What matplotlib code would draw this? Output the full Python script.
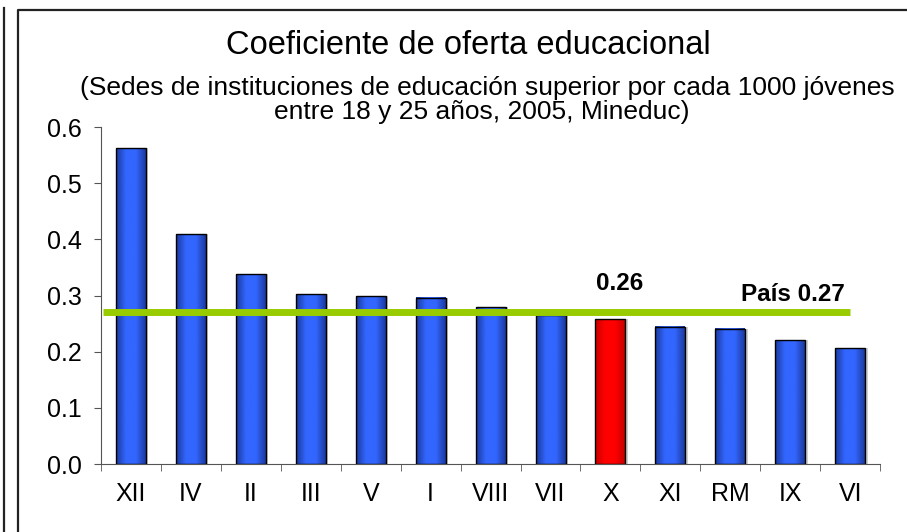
import numpy as np
import matplotlib
matplotlib.use('Agg')
import matplotlib.pyplot as plt
from matplotlib.lines import Line2D
from matplotlib.colors import LinearSegmentedColormap

plt.rcParams['font.family'] = ['Liberation Sans', 'DejaVu Sans']

regiones = ['XII', 'IV', 'II', 'III', 'V', 'I', 'VIII', 'VII', 'X', 'XI', 'RM', 'IX', 'VI']
coeficiente = [0.562, 0.409, 0.338, 0.302, 0.299, 0.296, 0.279, 0.266, 0.258, 0.244, 0.241, 0.220, 0.206]
destacada = 'X'
pais = 0.27

fig = plt.figure(figsize=(9.07, 5.32), dpi=100)
ax = fig.add_axes([0.1114, 0.1278, 0.859, 0.6333])

blue_cm = LinearSegmentedColormap.from_list('b', ['#1c3a9e', '#3366ff', '#3366ff', '#1c3a9e'])
red_cm = LinearSegmentedColormap.from_list('r', ['#c80000', '#ff0000', '#ff0000', '#c80000'])
grad = np.linspace(0, 1, 64).reshape(1, -1)

w = 0.5
x = np.arange(len(regiones))
for xi, (reg, val) in enumerate(zip(regiones, coeficiente)):
    cm = red_cm if reg == destacada else blue_cm
    # light shadow to the right
    ax.bar(xi + 0.04, val, width=w, color='#d0d0d0', zorder=1)
    ax.imshow(grad, cmap=cm, aspect='auto', extent=(xi - w / 2, xi + w / 2, 0, val), zorder=2)
    ax.bar(xi, val, width=w, facecolor='none', edgecolor='black', linewidth=1.0, zorder=3)

ax.plot([-0.46, 12.0], [pais, pais], color='#99cc00', linewidth=5, solid_capstyle='butt', zorder=4)

i = regiones.index(destacada)
ax.text(i + 0.15, 0.322, '0.26', ha='center', va='center', fontsize=17.5, fontweight='bold')
ax.text(11.04, 0.302, 'País 0.27', ha='center', va='center', fontsize=17.5, fontweight='bold')

ax.set_xlim(-0.5, len(regiones) - 0.5)
ax.set_ylim(0, 0.6)
ax.set_yticks(np.arange(0, 0.61, 0.1))
ax.set_yticklabels(['%.1f' % v for v in np.arange(0, 0.61, 0.1)], fontsize=18)
ax.set_xticks(x)
ax.set_xticklabels(regiones, fontsize=18)
ax.set_xticks(np.arange(-0.5, len(regiones)), minor=True)
ax.tick_params(axis='x', which='major', length=0, pad=13)
ax.tick_params(axis='x', which='minor', length=5, color='#555555')
ax.tick_params(axis='y', length=5, color='#555555', pad=9)
for s in ['top', 'right']:
    ax.spines[s].set_visible(False)
ax.spines['left'].set_color('#555555')
ax.spines['bottom'].set_color('#555555')

fig.text(0.516, 0.915, 'Coeficiente de oferta educacional', ha='center', va='center', fontsize=23.5)
fig.text(0.5375, 0.835, '(Sedes de instituciones de educación superior por cada 1000 jóvenes',
         ha='center', va='center', fontsize=19)
fig.text(0.531, 0.789, 'entre 18 y 25 años, 2005, Mineduc)', ha='center', va='center', fontsize=19)

# frames
fig.add_artist(Line2D([18 / 907, 18 / 907, 1.0], [0.0, 1 - 10 / 532, 1 - 10 / 532],
                      transform=fig.transFigure, color='#222222', linewidth=1.6))
fig.add_artist(Line2D([4 / 907, 4 / 907], [0.0, 1 - 8 / 532],
                      transform=fig.transFigure, color='#222222', linewidth=1.6))

fig.savefig('out.png', dpi=100)
